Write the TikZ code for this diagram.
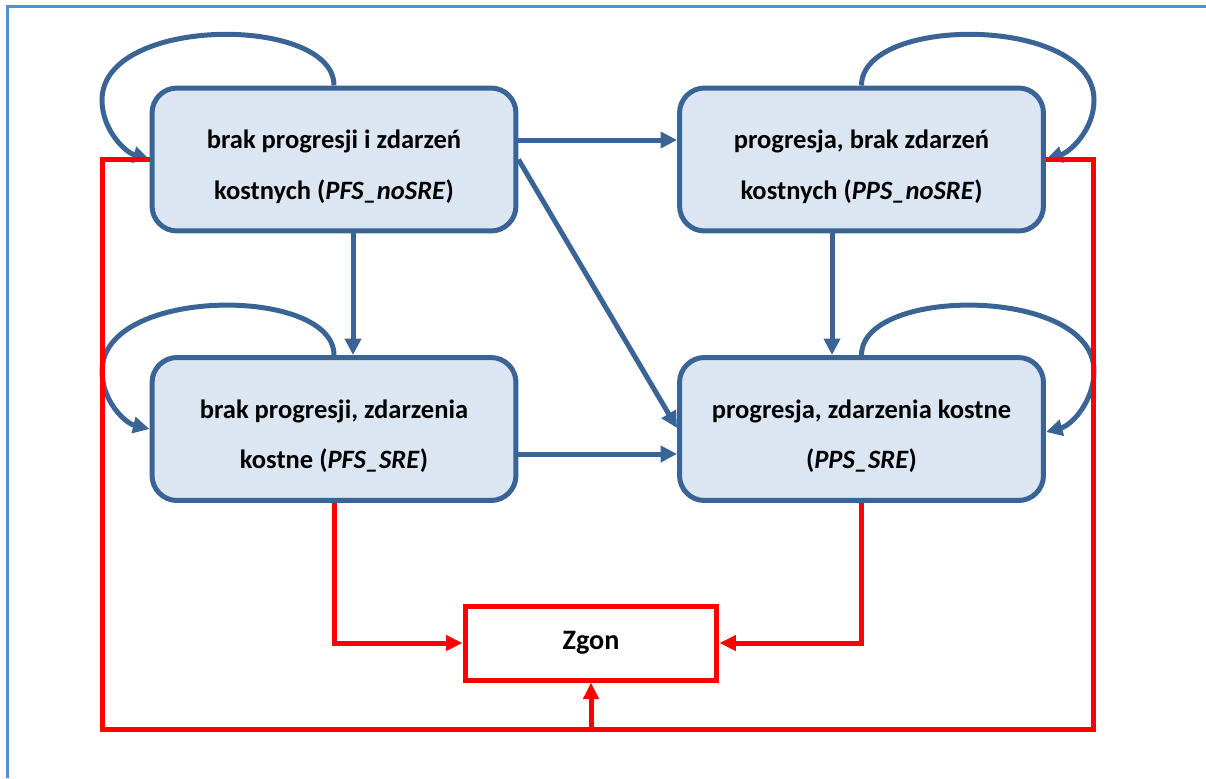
\documentclass[tikz,border=0pt]{standalone}
\usepackage{fontspec}
\setmainfont{Carlito}
\usetikzlibrary{arrows.meta}
\definecolor{stateblue}{RGB}{59,100,150}
\definecolor{statefill}{RGB}{220,230,242}
\definecolor{frameblue}{RGB}{85,142,213}
\newcommand{\topstrut}{\rule{0pt}{19pt}}

\begin{document}
\begin{tikzpicture}[x=0.02cm,y=-0.02cm]
\tikzset{state/.style = {shape=rectangle,rounded corners=0.5cm,draw=stateblue,fill=statefill,line width=0.1cm,
  minimum width=7.28cm,minimum height=2.86cm,align=center,font=\fontsize{15.1}{28.6}\selectfont\bfseries}}
\tikzset{final/.style = {shape=rectangle,draw=red,fill=white,line width=0.1cm,
  minimum width=5.04cm,minimum height=1.48cm,font=\fontsize{16}{19}\selectfont\bfseries}}
\tikzset{edge/.style = {-{Triangle[length=0.33cm,width=0.32cm]},draw=stateblue,line width=0.1cm}}
\tikzset{death/.style = {-{Triangle[length=0.33cm,width=0.3cm]},draw=red,line width=0.1cm}}
\tikzset{deathline/.style = {draw=red,line width=0.1cm}}
\useasboundingbox (0,0) rectangle (1206,778);
\draw[frameblue,line width=0.06cm] (7.5,778) -- (7.5,6.5) -- (1206,6.5);
% states
\node[state] (pfsno)  at (334,159.5)   {\topstrut brak progresji i zdarzeń\\kostnych (\textit{PFS\_noSRE})};
\node[state] (ppsno)  at (861.5,159.5) {\topstrut progresja, brak zdarzeń\\kostnych (\textit{PPS\_noSRE})};
\node[state] (pfssre) at (334,429)     {\topstrut brak progresji, zdarzenia\\kostne (\textit{PFS\_SRE})};
\node[state] (ppssre) at (861.5,429)   {\topstrut progresja, zdarzenia kostne\\(\textit{PPS\_SRE})};
\node[final] (zgon)   at (591,643)     {Zgon};
% transitions
\draw[edge] (pfsno.east |- 0,140) -- (ppsno.west |- 0,140);
\draw[edge] (pfsno.east) -- (ppssre.west |- 0,428);
\draw[edge] (pfsno.south -| 353,0) -- (pfssre.north -| 353,0);
\draw[edge] (ppsno.south -| 832,0) -- (ppssre.north -| 832,0);
\draw[edge] (pfssre.east |- 0,454) -- (ppssre.west |- 0,454);
% loops
\draw[edge] (pfsno.north) .. controls (334,15) and (102,15) .. (102,100)
  .. controls (102,130) and (125,152) .. (pfsno.west);
\draw[edge] (pfssre.north) .. controls (334,286) and (102,286) .. (102,371)
  .. controls (102,401) and (125,423) .. (pfssre.west);
\draw[edge] (ppsno.north) .. controls (861.5,15) and (1094,15) .. (1094,100)
  .. controls (1094,130) and (1070,152) .. (ppsno.east);
\draw[edge] (ppssre.north) .. controls (861.5,286) and (1094,286) .. (1094,371)
  .. controls (1094,401) and (1072,425) .. (ppssre.east |- 0,432);
% death
\draw[death] (pfssre.south) |- (zgon.west);
\draw[death] (ppssre.south) |- (zgon.east);
\draw[deathline] (pfsno.west) -| (102.5,729) -- (1093,729) |- (ppsno.east);
\coordinate (join) at (591,729);
\draw[death] (join) -- (zgon.south);
\end{tikzpicture}
\end{document}
